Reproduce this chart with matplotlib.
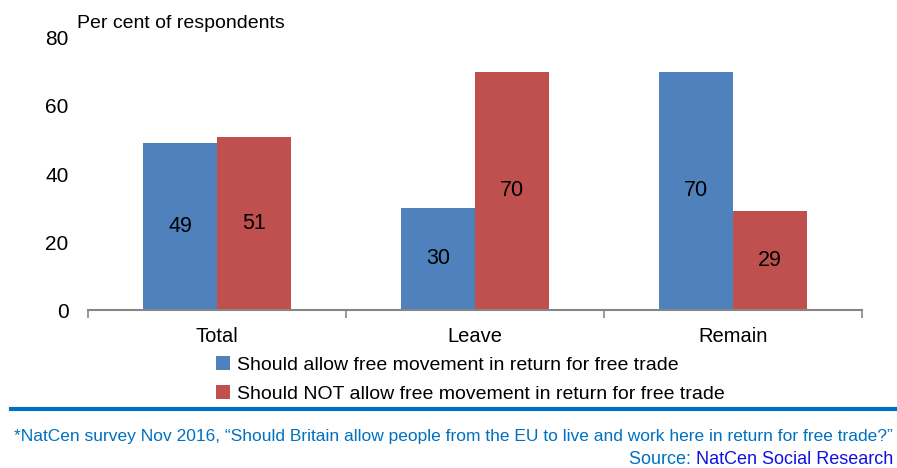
import matplotlib
matplotlib.use("Agg")
import numpy as np
from matplotlib import pyplot as plt

plt.rcParams['font.family'] = ['Liberation Sans', 'DejaVu Sans']

categories = ['Total', 'Leave', 'Remain']
allow = [49, 30, 70]
not_allow = [51, 70, 29]
series_names = ['Should allow free movement in return for free trade',
                'Should NOT allow free movement in return for free trade']
yticks = [0, 20, 40, 60, 80]

blue = '#4F81BD'
red = '#C0504D'
note_blue = '#0070C0'

fig = plt.figure(figsize=(8.97, 4.68), dpi=100)
ax = fig.add_axes([88/897, 1-310/468, (862-88)/897, (310-38)/468])

x = np.arange(len(categories))
w = 0.287
b1 = ax.bar(x - w/2, allow, w, color=blue, label=series_names[0])
b2 = ax.bar(x + w/2, not_allow, w, color=red, label=series_names[1])

# value labels in the middle of each bar
for bars, vals in ((b1, allow), (b2, not_allow)):
    for rect, v in zip(bars, vals):
        ax.text(rect.get_x() + rect.get_width()/2, v/2, str(v),
                ha='center', va='center', fontsize=15.5)

ax.set_xlim(-0.5, len(categories) - 0.5)
ax.set_ylim(0, 80)
ax.set_yticks(yticks)
ax.tick_params(axis='y', length=0, labelsize=15, pad=14)
ax.set_xticks(x)
ax.set_xticklabels(categories, fontsize=14.5)
ax.tick_params(axis='x', length=0, pad=12)
ax.set_xticks(np.arange(len(categories) + 1) - 0.5, minor=True)
ax.tick_params(axis='x', which='minor', length=6, color='#868686', width=1.2)
for s in ('top', 'right', 'left'):
    ax.spines[s].set_visible(False)
ax.spines['bottom'].set_color('#868686')
ax.spines['bottom'].set_linewidth(1.5)

fig.text(77/897, 1-23/468, 'Per cent of respondents', fontsize=14, va='center')

fig.legend(handles=[b1, b2], loc='upper left', bbox_to_anchor=(216/897, 1-356/468),
           frameon=False, fontsize=14, handlelength=0.7, handleheight=0.7,
           handletextpad=0.4, labelspacing=0.6, borderaxespad=0, borderpad=0)

fig.add_artist(plt.Line2D([11/897, 1], [1-409/468, 1-409/468], color=note_blue,
                          lw=3, transform=fig.transFigure))
fig.text(893/897, 1-436/468,
         '*NatCen survey Nov 2016, \u201cShould Britain allow people from the EU to live and work here in return for free trade?\u201d',
         ha='right', va='center', fontsize=12.55, color=note_blue)
src = fig.text(893/897, 1-459/468, 'NatCen Social Research', ha='right', va='center',
               fontsize=13, color='#1010E0')
fig.canvas.draw()
bb = src.get_window_extent()
fig.text(bb.x0 / fig.bbox.width, 1-459/468, 'Source: ', ha='right', va='center',
         fontsize=13, color=note_blue)

fig.savefig('out.png', dpi=100)
plt.close()
